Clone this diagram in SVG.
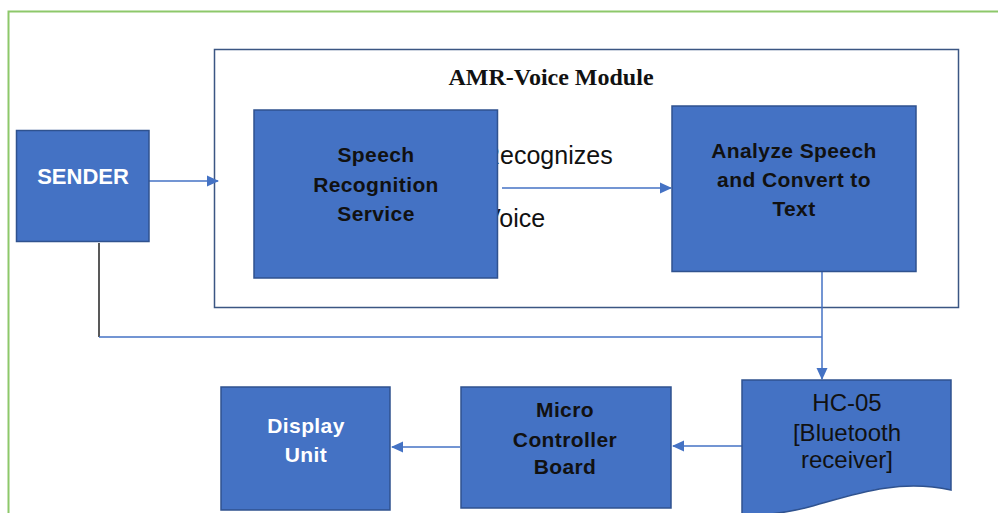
<svg xmlns="http://www.w3.org/2000/svg" width="998" height="513" viewBox="0 0 998 513">
<defs>
<style>
.box{fill:#4472C4;stroke:#2F528F;stroke-width:1.5}
.lbl{font-family:"Liberation Sans",Arial,sans-serif;font-size:21px;text-anchor:middle}
.b{font-weight:bold}
.dk{fill:#111}
.wh{fill:#ffffff}
.conn{fill:none;stroke:#4472C4;stroke-width:1.5}
</style>
<marker id="arr" markerWidth="12" markerHeight="12" refX="11" refY="6" orient="auto" markerUnits="userSpaceOnUse">
<path d="M0,0.5 L12,6 L0,11.5 Z" fill="#4472C4"/>
</marker>
</defs>
<rect width="998" height="513" fill="#ffffff"/>
<rect x="8.5" y="11.5" width="1000" height="520" fill="none" stroke="#8DC86A" stroke-width="2"/>

<g id="amr-module">
<rect x="214.5" y="49.5" width="744" height="258" fill="none" stroke="#3B5683" stroke-width="1.5"/>
<text x="551" y="85" font-family="'Liberation Serif','Times New Roman',serif" font-size="24" font-weight="bold" text-anchor="middle" fill="#111">AMR-Voice Module</text>
</g>

<g id="edge-labels">
<text x="482" y="164" font-family="'Liberation Sans',Arial,sans-serif" font-size="25" fill="#111">Recognizes</text>
<text x="484" y="227" font-family="'Liberation Sans',Arial,sans-serif" font-size="25" fill="#111">Voice</text>
</g>

<g id="connectors">
<line class="conn" x1="149" y1="181" x2="218" y2="181" marker-end="url(#arr)"/>
<line class="conn" x1="502" y1="188" x2="671" y2="188" marker-end="url(#arr)"/>
<line x1="99" y1="243" x2="99" y2="337" stroke="#222" stroke-width="1.5"/>
<line class="conn" x1="99" y1="337" x2="822" y2="337"/>
<line class="conn" x1="822" y1="272" x2="822" y2="379" marker-end="url(#arr)"/>
<line class="conn" x1="742" y1="446" x2="673" y2="446" marker-end="url(#arr)"/>
<line class="conn" x1="460" y1="447" x2="392" y2="447" marker-end="url(#arr)"/>
</g>

<g id="sender">
<rect class="box" x="16.5" y="130.5" width="132.5" height="111"/>
<text class="lbl b wh" x="83" y="184" style="font-size:22px">SENDER</text>
</g>

<g id="speech-recognition">
<rect class="box" x="254" y="110" width="243.5" height="168"/>
<text class="lbl b dk" letter-spacing="0.4"><tspan x="376" y="162">Speech</tspan><tspan x="376" y="192">Recognition</tspan><tspan x="376" y="221">Service</tspan></text>
</g>

<g id="analyze-speech">
<rect class="box" x="672" y="106" width="244" height="165.5"/>
<text class="lbl b dk" letter-spacing="0.4"><tspan x="794" y="158">Analyze Speech</tspan><tspan x="794" y="187">and Convert to</tspan><tspan x="794" y="216">Text</tspan></text>
</g>

<g id="hc05">
<path class="box" d="M742,380 H951 V490 C 895,478 850,496 805,508 C 780,514 760,516 742,514 Z"/>
<text class="lbl dk" style="font-size:24px"><tspan x="847" y="411">HC-05</tspan><tspan x="847" y="441">[Bluetooth</tspan><tspan x="847" y="468">receiver]</tspan></text>
</g>

<g id="micro-controller">
<rect class="box" x="461" y="387" width="210" height="121"/>
<text class="lbl b dk" letter-spacing="0.4"><tspan x="565" y="417">Micro</tspan><tspan x="565" y="447">Controller</tspan><tspan x="565" y="474">Board</tspan></text>
</g>

<g id="display-unit">
<rect class="box" x="221" y="387" width="169" height="123"/>
<text class="lbl b wh" letter-spacing="0.4"><tspan x="306" y="433">Display</tspan><tspan x="306" y="462">Unit</tspan></text>
</g>
</svg>
